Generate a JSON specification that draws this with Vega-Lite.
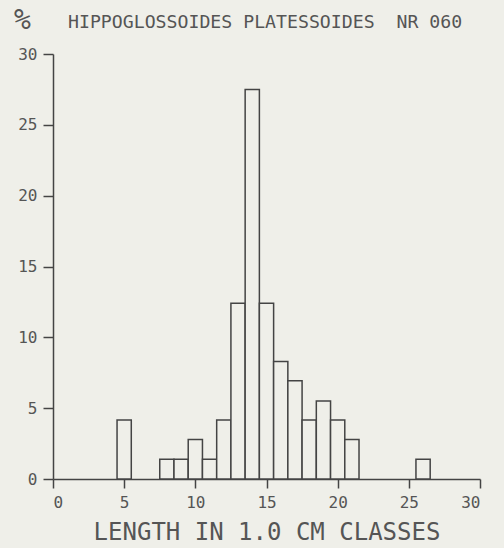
{
  "$schema": "https://vega.github.io/schema/vega-lite/v6.json",
  "width": 427,
  "height": 425,
  "autosize": {"type": "none"},
  "padding": {"left": 53, "top": 54, "right": 24, "bottom": 69},
  "background": "#efefe9",
  "title": {
    "text": "HIPPOGLOSSOIDES PLATESSOIDES\u00a0 NR 060",
    "anchor": "start",
    "frame": "group",
    "dx": 15,
    "font": "DejaVu Sans Mono",
    "fontSize": 18.2,
    "fontWeight": "normal",
    "color": "#555555",
    "baseline": "middle",
    "offset": 0,
    "dy": 35
  },
  "config": {
    "view": {"stroke": null},
    "axis": {
      "grid": false,
      "domainColor": "#444444",
      "domainWidth": 1.5,
      "tickColor": "#444444",
      "tickWidth": 1.5,
      "labelFont": "DejaVu Sans Mono",
      "labelColor": "#555555",
      "titleFont": "DejaVu Sans Mono",
      "titleColor": "#555555",
      "titleFontWeight": "normal"
    }
  },
  "data": {
    "values": [
      {"from": 4.5, "to": 5.5, "pct": 4.17},
      {"from": 7.5, "to": 8.5, "pct": 1.39},
      {"from": 8.5, "to": 9.5, "pct": 1.39},
      {"from": 9.5, "to": 10.5, "pct": 2.78},
      {"from": 10.5, "to": 11.5, "pct": 1.39},
      {"from": 11.5, "to": 12.5, "pct": 4.17},
      {"from": 12.5, "to": 13.5, "pct": 12.4},
      {"from": 13.5, "to": 14.5, "pct": 27.5},
      {"from": 14.5, "to": 15.5, "pct": 12.4},
      {"from": 15.5, "to": 16.5, "pct": 8.3},
      {"from": 16.5, "to": 17.5, "pct": 6.94},
      {"from": 17.5, "to": 18.5, "pct": 4.17},
      {"from": 18.5, "to": 19.5, "pct": 5.5},
      {"from": 19.5, "to": 20.5, "pct": 4.17},
      {"from": 20.5, "to": 21.5, "pct": 2.78},
      {"from": 25.5, "to": 26.5, "pct": 1.39}
    ]
  },
  "mark": {"type": "rect", "fill": "#efefe9", "stroke": "#444444", "strokeWidth": 1.5},
  "encoding": {
    "x": {
      "field": "from",
      "type": "quantitative",
      "scale": {"domain": [0, 30], "nice": false, "zero": false},
      "axis": {
        "values": [0, 5, 10, 15, 20, 25, 30],
        "title": "LENGTH IN 1.0 CM CLASSES",
        "titleFontSize": 24,
        "titlePadding": 10,
        "labelFontSize": 16,
        "labelPadding": 6,
        "tickSize": 9
      }
    },
    "x2": {"field": "to"},
    "y": {
      "field": "pct",
      "type": "quantitative",
      "scale": {"domain": [0, 30], "nice": false},
      "axis": {
        "values": [0, 5, 10, 15, 20, 25, 30],
        "title": "%",
        "titleAngle": 0,
        "titleFontSize": 28,
        "titleAlign": "center",
        "titleBaseline": "middle",
        "titleX": -31,
        "titleY": -34,
        "labelFontSize": 16,
        "labelPadding": 6,
        "tickSize": 10
      }
    },
    "y2": {"datum": 0}
  }
}
